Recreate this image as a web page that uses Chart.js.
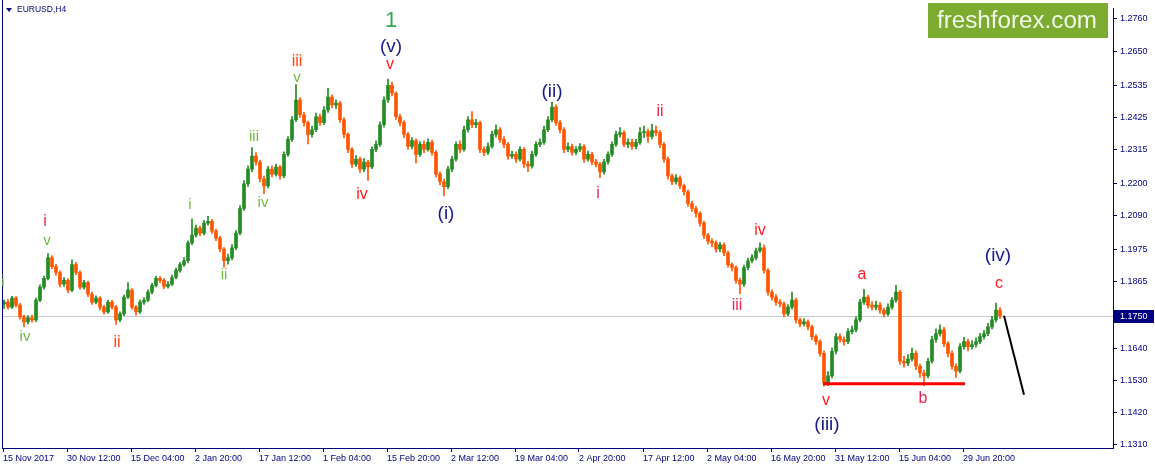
<!DOCTYPE html>
<html>
<head>
<meta charset="utf-8">
<script src="https://cdn.jsdelivr.net/npm/chart.js@4"></script>
<style>
  html, body { margin: 0; padding: 0; background: #fff; }
  canvas { display: block; }
</style>
</head>
<body>
<canvas id="eurusd" width="1155" height="469"></canvas>
<script>
// EURUSD H4, one candle per 4 bars
const firstOpen = 1.1790;
const closes = [
  1.1796, 1.1779, 1.1810, 1.1786, 1.1746, 1.1729, 1.1743, 1.1736, 1.1803, 1.1847,
  1.1877, 1.1947, 1.1917, 1.1897, 1.1857, 1.1870, 1.1837, 1.1924, 1.1897, 1.1847,
  1.1863, 1.1823, 1.1796, 1.1810, 1.1779, 1.1763, 1.1796, 1.1779, 1.1736, 1.1756,
  1.1813, 1.1837, 1.1779, 1.1763, 1.1796, 1.1803, 1.1830, 1.1853, 1.1877, 1.1870,
  1.1850, 1.1857, 1.1880, 1.1904, 1.1924, 1.1937, 1.1998, 1.2024, 1.2048, 1.2031,
  1.2065, 1.2071, 1.2038, 1.2014, 1.1977, 1.1937, 1.1947, 1.1981, 1.2031, 1.2115,
  1.2199, 1.2249, 1.2293, 1.2273, 1.2216, 1.2192, 1.2249, 1.2232, 1.2256, 1.2226,
  1.2299, 1.2350, 1.2417, 1.2484, 1.2434, 1.2407, 1.2367, 1.2383, 1.2427, 1.2407,
  1.2450, 1.2494, 1.2467, 1.2474, 1.2417, 1.2367, 1.2316, 1.2266, 1.2283, 1.2249,
  1.2273, 1.2256, 1.2316, 1.2333, 1.2400, 1.2484, 1.2534, 1.2507, 1.2427, 1.2407,
  1.2367, 1.2326, 1.2346, 1.2299, 1.2333, 1.2316, 1.2340, 1.2306, 1.2232, 1.2206,
  1.2189, 1.2249, 1.2283, 1.2333, 1.2316, 1.2383, 1.2417, 1.2400, 1.2407, 1.2316,
  1.2306, 1.2326, 1.2367, 1.2383, 1.2350, 1.2333, 1.2293, 1.2299, 1.2283, 1.2316,
  1.2266, 1.2259, 1.2299, 1.2333, 1.2340, 1.2383, 1.2417, 1.2460, 1.2407, 1.2383,
  1.2316, 1.2326, 1.2306, 1.2316, 1.2326, 1.2283, 1.2299, 1.2273, 1.2266, 1.2239,
  1.2273, 1.2299, 1.2333, 1.2367, 1.2373, 1.2333, 1.2340, 1.2326, 1.2340, 1.2373,
  1.2377, 1.2360, 1.2380, 1.2373, 1.2333, 1.2283, 1.2226, 1.2206, 1.2219, 1.2192,
  1.2172, 1.2132, 1.2115, 1.2098, 1.2065, 1.2024, 1.2004, 1.1998, 1.1977, 1.1991,
  1.1964, 1.1924, 1.1914, 1.1870, 1.1857, 1.1914, 1.1937, 1.1947, 1.1971, 1.1981,
  1.1904, 1.1830, 1.1813, 1.1796, 1.1790, 1.1756, 1.1779, 1.1803, 1.1736, 1.1722,
  1.1729, 1.1712, 1.1679, 1.1662, 1.1622, 1.1521, 1.1545, 1.1629, 1.1679, 1.1669,
  1.1662, 1.1696, 1.1702, 1.1736, 1.1796, 1.1813, 1.1786, 1.1779, 1.1786, 1.1769,
  1.1756, 1.1779, 1.1803, 1.1830, 1.1595, 1.1588, 1.1602, 1.1622, 1.1578, 1.1555,
  1.1545, 1.1595, 1.1669, 1.1689, 1.1702, 1.1655, 1.1622, 1.1578, 1.1561, 1.1645,
  1.1662, 1.1645, 1.1652, 1.1662, 1.1679, 1.1689, 1.1712, 1.1736, 1.1769, 1.1750
];
const highs = [
  1.1803, 1.1806, 1.1816, 1.1815, 1.1792, 1.1752, 1.1750, 1.1752, 1.1810, 1.1855,
  1.1885, 1.1961, 1.1955, 1.1925, 1.1903, 1.1880, 1.1876, 1.1940, 1.1932, 1.1903,
  1.1870, 1.1868, 1.1830, 1.1818, 1.1815, 1.1785, 1.1803, 1.1802, 1.1785, 1.1763,
  1.1820, 1.1863, 1.1842, 1.1785, 1.1803, 1.1812, 1.1838, 1.1860, 1.1885, 1.1884,
  1.1876, 1.1866, 1.1888, 1.1912, 1.1932, 1.1948, 1.2005, 1.2080, 1.2058, 1.2055,
  1.2075, 1.2088, 1.2078, 1.2045, 1.2020, 1.1982, 1.1960, 1.1992, 1.2040, 1.2125,
  1.2210, 1.2260, 1.2322, 1.2305, 1.2280, 1.2225, 1.2258, 1.2260, 1.2266, 1.2262,
  1.2308, 1.2360, 1.2428, 1.2537, 1.2492, 1.2442, 1.2412, 1.2395, 1.2440, 1.2436,
  1.2462, 1.2524, 1.2502, 1.2485, 1.2480, 1.2424, 1.2372, 1.2322, 1.2295, 1.2290,
  1.2285, 1.2280, 1.2325, 1.2345, 1.2410, 1.2495, 1.2555, 1.2545, 1.2512, 1.2435,
  1.2414, 1.2374, 1.2356, 1.2352, 1.2343, 1.2345, 1.2352, 1.2348, 1.2312, 1.2240,
  1.2215, 1.2258, 1.2292, 1.2342, 1.2345, 1.2395, 1.2428, 1.2445, 1.2418, 1.2412,
  1.2325, 1.2338, 1.2378, 1.2400, 1.2390, 1.2360, 1.2340, 1.2310, 1.2308, 1.2326,
  1.2322, 1.2275, 1.2310, 1.2343, 1.2352, 1.2395, 1.2428, 1.2477, 1.2468, 1.2415,
  1.2390, 1.2338, 1.2334, 1.2326, 1.2336, 1.2332, 1.2310, 1.2306, 1.2282, 1.2272,
  1.2282, 1.2308, 1.2342, 1.2378, 1.2390, 1.2380, 1.2352, 1.2350, 1.2350, 1.2390,
  1.2395, 1.2385, 1.2402, 1.2395, 1.2380, 1.2340, 1.2290, 1.2232, 1.2230, 1.2226,
  1.2198, 1.2178, 1.2140, 1.2122, 1.2104, 1.2072, 1.2030, 1.2012, 1.2005, 1.2000,
  1.1998, 1.1970, 1.1930, 1.1920, 1.1878, 1.1922, 1.1946, 1.1958, 1.1980, 1.1998,
  1.1990, 1.1910, 1.1838, 1.1822, 1.1805, 1.1796, 1.1788, 1.1830, 1.1810, 1.1742,
  1.1740, 1.1736, 1.1718, 1.1686, 1.1668, 1.1630, 1.1560, 1.1640, 1.1690, 1.1688,
  1.1678, 1.1706, 1.1715, 1.1746, 1.1806, 1.1840, 1.1820, 1.1798, 1.1800, 1.1795,
  1.1776, 1.1790, 1.1812, 1.1853, 1.1836, 1.1612, 1.1618, 1.1640, 1.1630, 1.1585,
  1.1565, 1.1605, 1.1680, 1.1705, 1.1719, 1.1710, 1.1662, 1.1630, 1.1586, 1.1655,
  1.1676, 1.1670, 1.1665, 1.1675, 1.1690, 1.1700, 1.1724, 1.1748, 1.1793, 1.1778
];
const lows = [
  1.1775, 1.1772, 1.1775, 1.1780, 1.1738, 1.1712, 1.1722, 1.1728, 1.1730, 1.1798,
  1.1840, 1.1872, 1.1910, 1.1888, 1.1848, 1.1850, 1.1828, 1.1832, 1.1890, 1.1840,
  1.1840, 1.1815, 1.1788, 1.1790, 1.1770, 1.1755, 1.1758, 1.1772, 1.1720, 1.1730,
  1.1750, 1.1808, 1.1772, 1.1752, 1.1758, 1.1788, 1.1798, 1.1824, 1.1848, 1.1862,
  1.1842, 1.1844, 1.1852, 1.1875, 1.1898, 1.1918, 1.1930, 1.1992, 1.2018, 1.2022,
  1.2025, 1.2058, 1.2030, 1.2005, 1.1968, 1.1915, 1.1925, 1.1940, 1.1975, 1.2025,
  1.2108, 1.2190, 1.2240, 1.2262, 1.2205, 1.2165, 1.2185, 1.2222, 1.2225, 1.2215,
  1.2220, 1.2292, 1.2343, 1.2410, 1.2425, 1.2395, 1.2335, 1.2358, 1.2376, 1.2398,
  1.2400, 1.2442, 1.2458, 1.2455, 1.2408, 1.2355, 1.2305, 1.2255, 1.2258, 1.2238,
  1.2240, 1.2210, 1.2250, 1.2308, 1.2326, 1.2392, 1.2476, 1.2498, 1.2418, 1.2396,
  1.2356, 1.2316, 1.2318, 1.2270, 1.2292, 1.2305, 1.2310, 1.2296, 1.2222, 1.2195,
  1.2158, 1.2182, 1.2240, 1.2276, 1.2305, 1.2310, 1.2375, 1.2390, 1.2390, 1.2305,
  1.2295, 1.2298, 1.2320, 1.2358, 1.2340, 1.2322, 1.2282, 1.2285, 1.2272, 1.2276,
  1.2255, 1.2240, 1.2252, 1.2292, 1.2325, 1.2333, 1.2376, 1.2410, 1.2398, 1.2372,
  1.2305, 1.2308, 1.2296, 1.2298, 1.2308, 1.2272, 1.2276, 1.2264, 1.2256, 1.2220,
  1.2232, 1.2266, 1.2292, 1.2326, 1.2358, 1.2325, 1.2322, 1.2316, 1.2318, 1.2333,
  1.2356, 1.2340, 1.2352, 1.2362, 1.2322, 1.2272, 1.2215, 1.2196, 1.2198, 1.2182,
  1.2160, 1.2122, 1.2105, 1.2085, 1.2055, 1.2012, 1.1994, 1.1985, 1.1966, 1.1968,
  1.1954, 1.1915, 1.1902, 1.1860, 1.1825, 1.1850, 1.1906, 1.1930, 1.1940, 1.1965,
  1.1895, 1.1820, 1.1803, 1.1786, 1.1780, 1.1746, 1.1750, 1.1772, 1.1725, 1.1712,
  1.1715, 1.1702, 1.1668, 1.1652, 1.1612, 1.1510, 1.1512, 1.1538, 1.1620, 1.1660,
  1.1650, 1.1655, 1.1688, 1.1695, 1.1730, 1.1788, 1.1776, 1.1770, 1.1770, 1.1758,
  1.1746, 1.1750, 1.1772, 1.1796, 1.1585, 1.1575, 1.1580, 1.1595, 1.1566, 1.1540,
  1.1512, 1.1538, 1.1588, 1.1660, 1.1680, 1.1645, 1.1610, 1.1568, 1.1540, 1.1555,
  1.1636, 1.1630, 1.1636, 1.1643, 1.1655, 1.1670, 1.1682, 1.1705, 1.1728, 1.1740
];
const barsPerCandle = 4;

const timeTicks = [1, 65, 129, 193, 257, 321, 385, 449, 513, 577, 641, 705, 769, 833, 897, 961];
const timeLabels = ['15 Nov 2017', '30 Nov 12:00', '15 Dec 04:00', '2 Jan 20:00', '17 Jan 12:00',
  '1 Feb 04:00', '15 Feb 20:00', '2 Mar 12:00', '19 Mar 04:00', '2 Apr 20:00', '17 Apr 12:00',
  '2 May 04:00', '16 May 20:00', '31 May 12:00', '15 Jun 04:00', '29 Jun 20:00'];
const priceTicks = [1.2760, 1.2650, 1.2535, 1.2425, 1.2315, 1.2200, 1.2090, 1.1975, 1.1865,
  1.1640, 1.1530, 1.1420, 1.1310];

const supportLevel = 1.1518;
const supportFrom = 821, supportTo = 963;
const forecast = [{ x: 1002, y: 1.1750 }, { x: 1022, y: 1.1481 }];

// wave labels: [text, bar, price, colour group]
const waveLabels = [
  ['i', 1, 1.1864, 'g'], ['iv', 23, 1.1679, 'g'], ['v', 45, 1.2004, 'g'], ['i', 188, 1.2128, 'g'],
  ['ii', 222, 1.1890, 'g'], ['iii', 252, 1.2360, 'g'], ['iv', 261, 1.2135, 'g'], ['v', 295, 1.2561, 'g'],
  ['i', 43, 1.2071, 'p'], ['ii', 115, 1.1659, 'o'], ['iii', 295, 1.2615, 'o'], ['v', 388, 1.2605, 'r'],
  ['iv', 360, 1.2162, 'r'], ['i', 596, 1.2165, 'p'], ['ii', 658, 1.2444, 'p'], ['iii', 735, 1.1783, 'p'],
  ['iv', 758, 1.2041, 'r'], ['v', 824, 1.1461, 'r'], ['a', 860, 1.1890, 'r'], ['b', 921, 1.1468, 'p'],
  ['c', 997, 1.1860, 'r'],
  ['(v)', 389, 1.2665, 'b'], ['(i)', 444, 1.2098, 'b'], ['(ii)', 550, 1.2511, 'b'],
  ['(iii)', 825, 1.1380, 'b'], ['(iv)', 996, 1.1954, 'b'],
  ['1', 389, 1.2752, 'G']
];
const labelStyle = {
  g: ['#6cbb3c', 15], p: ['#e8264f', 16], o: ['#ff4010', 16], r: ['#ff1c1c', 16],
  b: ['#1a1a8a', 19], G: ['#33a852', 22]
};

const navy = '#000080';
const upColor = '#238c23';
const downColor = '#ff5500';

const candles = closes.map((c, i) => {
  const o = i === 0 ? firstOpen : closes[i - 1];
  return { x: i * barsPerCandle + 2, y: [o, c] };
});
const wicks = closes.map((c, i) => ({ x: i * barsPerCandle + 2, y: [lows[i], highs[i]] }));
const candleColors = candles.map(d => d.y[1] >= d.y[0] ? upColor : downColor);
const lastPrice = closes[closes.length - 1];

const overlay = {
  id: 'overlay',
  beforeDatasetsDraw(chart) {
    const { ctx, chartArea: a, scales: { y } } = chart;
    const py = Math.round(y.getPixelForValue(lastPrice)) + 0.5;
    ctx.save();
    ctx.strokeStyle = '#c8c8c8';
    ctx.lineWidth = 1;
    ctx.beginPath();
    ctx.moveTo(a.left, py);
    ctx.lineTo(a.right, py);
    ctx.stroke();
    ctx.restore();
  },
  afterDraw(chart) {
    const { ctx, chartArea: a, scales: { x, y } } = chart;
    ctx.save();
    // left frame line
    ctx.strokeStyle = navy;
    ctx.lineWidth = 1;
    ctx.beginPath();
    ctx.moveTo(a.left + 0.5, 0);
    ctx.lineTo(a.left + 0.5, a.bottom);
    ctx.stroke();

    // symbol caption
    ctx.fillStyle = '#fff';
    ctx.fillRect(a.left + 1, 3, 62, 13);
    ctx.fillStyle = navy;
    ctx.beginPath();
    ctx.moveTo(6, 8); ctx.lineTo(12, 8); ctx.lineTo(9, 12); ctx.closePath();
    ctx.fill();
    ctx.font = '8.5px "Liberation Sans"';
    ctx.textBaseline = 'middle';
    ctx.textAlign = 'left';
    ctx.fillText('EURUSD,H4', 17, 10);

    // wave labels
    ctx.textAlign = 'center';
    waveLabels.forEach(([t, bx, p, g]) => {
      const [col, size] = labelStyle[g];
      ctx.fillStyle = col;
      ctx.font = size + 'px "Liberation Sans"';
      ctx.fillText(t, x.getPixelForValue(bx), y.getPixelForValue(p));
    });

    // logo box
    ctx.fillStyle = '#7bab2f';
    ctx.fillRect(928, 3, 180, 35);
    let fs = 26;
    ctx.font = fs + 'px "Liberation Sans"';
    fs = fs * 160 / ctx.measureText('freshforex.com').width;
    ctx.font = fs + 'px "Liberation Sans"';
    ctx.fillStyle = '#f4f8ea';
    ctx.textAlign = 'center';
    ctx.fillText('freshforex.com', 1017, 21);

    // current price tag
    const py = Math.round(y.getPixelForValue(lastPrice));
    ctx.fillStyle = navy;
    ctx.fillRect(a.right + 1, py - 6, 40, 13);
    ctx.fillStyle = '#fff';
    ctx.font = '9px "Liberation Sans"';
    ctx.textAlign = 'left';
    ctx.fillText(lastPrice.toFixed(4), a.right + 7, py + 0.5);
    ctx.restore();
  }
};

new Chart(document.getElementById('eurusd').getContext('2d'), {
  type: 'bar',
  data: {
    datasets: [
      {
        type: 'line',
        order: 1,
        data: [{ x: supportFrom, y: supportLevel }, { x: supportTo, y: supportLevel }],
        borderColor: '#ff0000',
        borderWidth: 3,
        pointRadius: 0
      },
      {
        type: 'line',
        order: 1,
        data: forecast,
        borderColor: '#000000',
        borderWidth: 2,
        pointRadius: 0
      },
      {
        order: 2,
        data: candles,
        backgroundColor: candleColors,
        barThickness: 3,
        minBarLength: 1,
        grouped: false,
        borderWidth: 0
      },
      {
        order: 3,
        data: wicks,
        backgroundColor: candleColors,
        barThickness: 1,
        grouped: false,
        borderWidth: 0
      }
    ]
  },
  options: {
    responsive: false,
    animation: false,
    layout: { padding: { left: 2, top: 2, right: 0, bottom: 0 } },
    plugins: { legend: { display: false }, tooltip: { enabled: false } },
    scales: {
      x: {
        type: 'linear',
        offset: false,
        min: 0,
        max: 1111,
        afterFit(s) { s.height = 21; },
        afterBuildTicks(s) { s.ticks = timeTicks.map(v => ({ value: v })); },
        ticks: {
          align: 'start',
          autoSkip: false,
          maxRotation: 0,
          padding: 1,
          color: navy,
          font: { family: 'Liberation Sans', size: 9 },
          callback: (v, i) => timeLabels[i]
        },
        grid: { offset: false, drawOnChartArea: false, tickLength: 4, color: navy },
        border: { color: navy }
      },
      y: {
        position: 'right',
        min: 1.12997,
        max: 1.27959,
        afterFit(s) { s.width = 42; },
        afterBuildTicks(s) { s.ticks = priceTicks.map(v => ({ value: v })); },
        ticks: {
          padding: 3,
          color: navy,
          font: { family: 'Liberation Sans', size: 9 },
          callback: v => v.toFixed(4)
        },
        grid: { drawOnChartArea: false, tickLength: 4, color: navy },
        border: { color: navy }
      }
    }
  },
  plugins: [overlay]
});
</script>
</body>
</html>
